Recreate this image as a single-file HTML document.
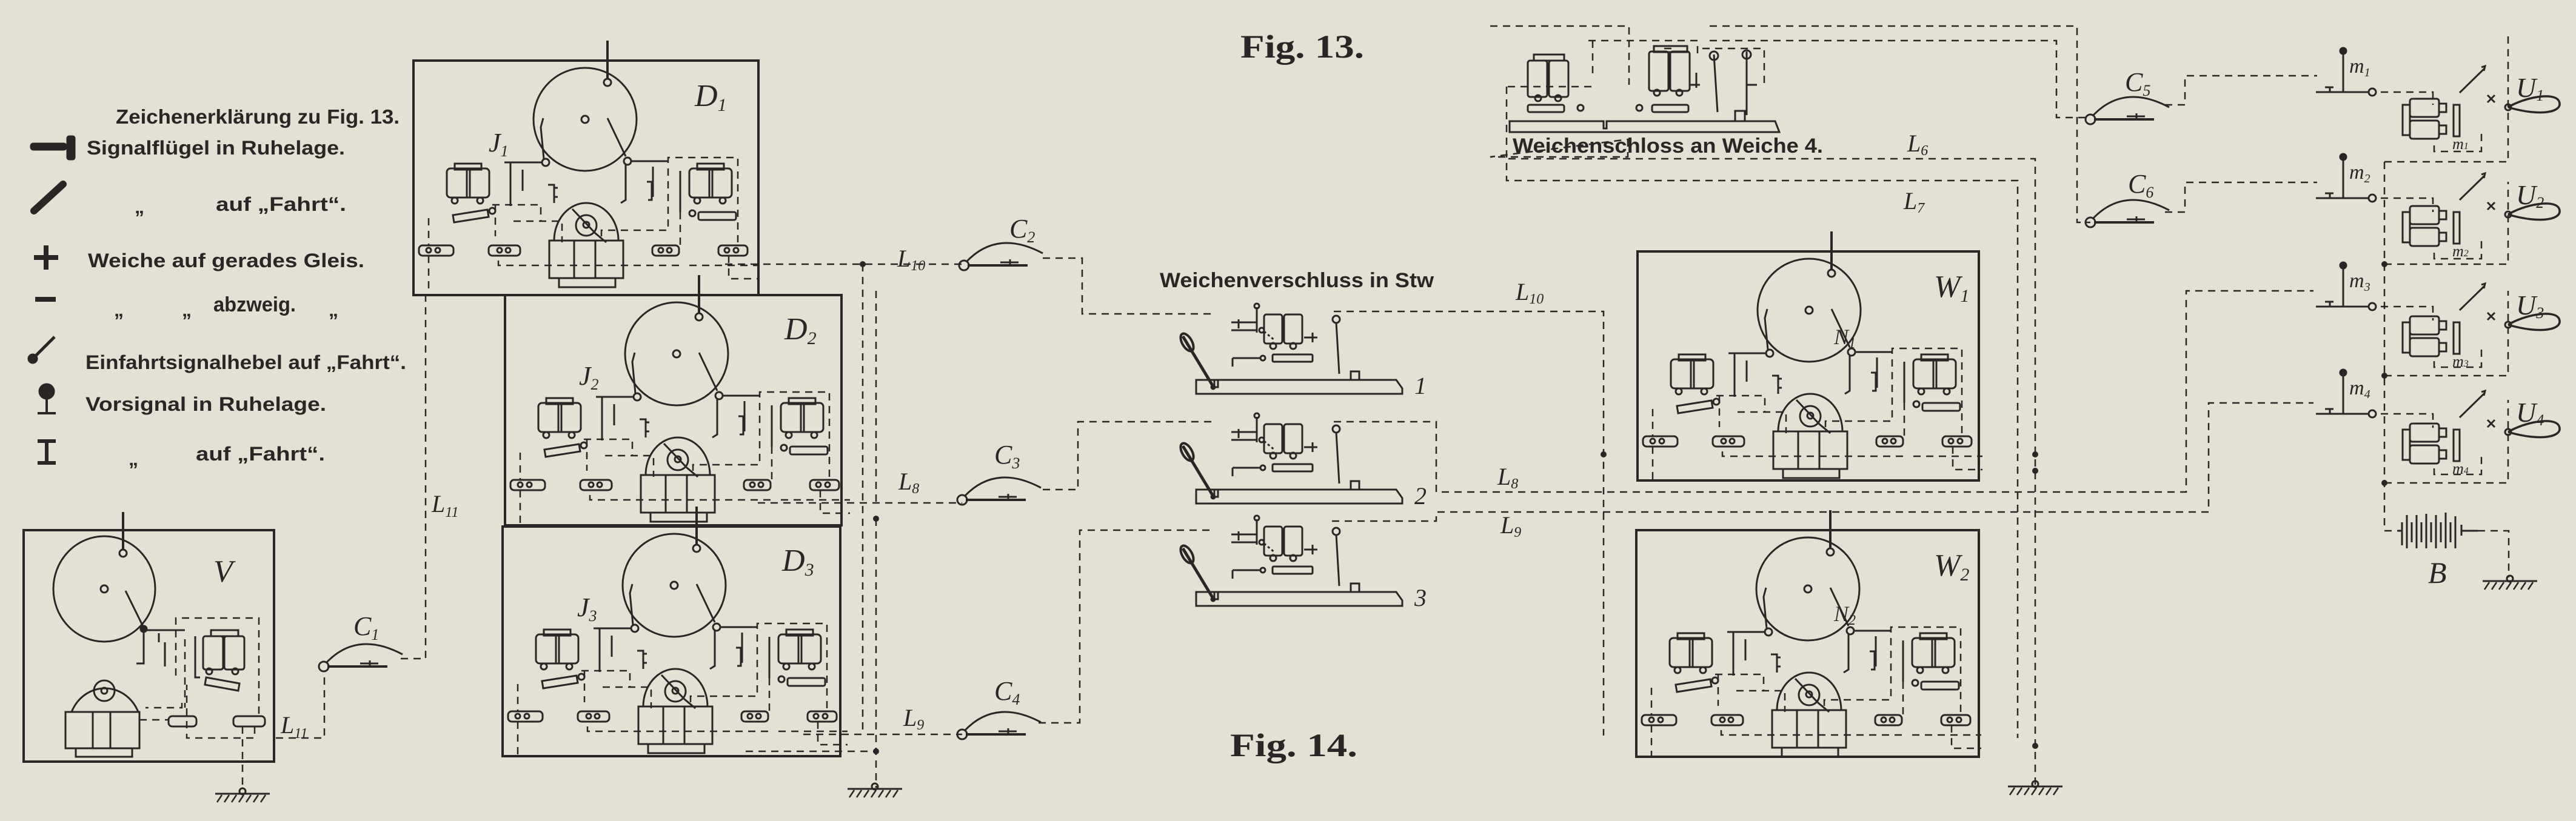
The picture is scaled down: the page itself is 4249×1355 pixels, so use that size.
<!DOCTYPE html>
<html><head><meta charset="utf-8"><style>
html,body{margin:0;padding:0;background:#e4e0d3;}
svg{display:block}
.t{font-family:"Liberation Sans Narrow","Liberation Sans",sans-serif;font-weight:bold;fill:#2a2626}
.s{font-family:"Liberation Serif",serif;font-style:italic;fill:#2a2626}
.f{font-family:"Liberation Serif",serif;font-weight:bold;fill:#2a2626}
</style></head><body>
<svg width="4249" height="1355" viewBox="0 0 4249 1355" xmlns="http://www.w3.org/2000/svg">
<rect width="4249" height="1355" fill="#e4e0d3"/>
<defs>
<g id="blk" fill="none" stroke="#2a2626" stroke-width="3">
 <line x1="320" y1="-33" x2="320" y2="30" stroke-width="4"/>
 <circle cx="320" cy="36" r="6"/>
 <circle cx="283" cy="97" r="85"/>
 <circle cx="283" cy="97" r="6"/>
 <line x1="320" y1="95" x2="350" y2="158"/>
 <path d="M215 162 L210 110 L214 95"/>
 <circle cx="218" cy="168" r="6"/><circle cx="353" cy="166" r="6"/>
 <line x1="150" y1="168" x2="212" y2="168"/><line x1="359" y1="166" x2="420" y2="166"/>
 <path d="M160 168 V240 M180 180 V215 M350 172 V230 l-8 5 M395 175 V225"/>
 <rect x="55" y="178" width="70" height="48" rx="6"/><rect x="68" y="170" width="44" height="10"/>
 <line x1="88" y1="178" x2="88" y2="226"/><line x1="93" y1="178" x2="93" y2="226"/>
 <circle cx="68" cy="231" r="5"/><circle cx="110" cy="231" r="5"/>
 <polygon points="65,255 122,246 124,258 67,267"/><circle cx="130" cy="248" r="5"/>
 <rect x="455" y="178" width="70" height="48" rx="6"/><rect x="468" y="170" width="44" height="10"/>
 <line x1="488" y1="178" x2="488" y2="226"/><line x1="493" y1="178" x2="493" y2="226"/>
 <circle cx="468" cy="231" r="5"/><circle cx="510" cy="231" r="5"/>
 <rect x="470" y="250" width="62" height="13" rx="3"/><circle cx="460" cy="252" r="5"/>
 <path d="M440 182 V250 M222 205 h10 v30 M232 210 h6 M232 225 h6 M385 200 h8 v30 h-6"/>
 <path d="M232 297 A53 62 0 0 1 338 297"/>
 <circle cx="285" cy="272" r="17"/><circle cx="285" cy="271" r="5"/>
 <path d="M262 245 L300 285 L318 300"/>
 <rect x="224" y="297" width="122" height="62"/>
 <line x1="265" y1="297" x2="265" y2="359"/><line x1="300" y1="297" x2="300" y2="359"/>
 <rect x="240" y="359" width="93" height="15"/>
 <rect x="9" y="305" width="57" height="17" rx="6"/><circle cx="25" cy="313" r="4"/><circle cx="40" cy="313" r="4"/>
 <rect x="124" y="305" width="52" height="17" rx="6"/><circle cx="142" cy="313" r="4"/><circle cx="156" cy="313" r="4"/>
 <rect x="394" y="305" width="44" height="17" rx="6"/><circle cx="408" cy="313" r="4"/><circle cx="422" cy="313" r="4"/>
 <rect x="503" y="305" width="48" height="17" rx="6"/><circle cx="517" cy="313" r="4"/><circle cx="532" cy="313" r="4"/>
 <g stroke-dasharray="12 9" stroke-width="2.5">
  <path d="M25 260 V305 M25 322 V385"/>
  <path d="M130 238 H210 V265 M135 238 V290"/>
  <path d="M140 330 V338 H440"/>
  <path d="M165 265 H245 V300"/>
  <path d="M310 290 V280 H420 V160 H535 V305"/>
  <path d="M440 250 V305 M455 338 H569 M520 322 V360 H569"/>
 </g>
</g>
<g id="lev" fill="none" stroke="#2a2626" stroke-width="3">
 <path d="M0 0 H330 L340 14 V23 H0 Z"/>
 <path d="M30 0 V12 h6 V0"/>
 <line x1="-22" y1="-72" x2="30" y2="14" stroke-width="5"/>
 <ellipse cx="-15" cy="-62" rx="8" ry="16" transform="rotate(-30 -15 -62)" stroke-width="4"/>
 <circle cx="28" cy="12" r="3"/>
 <rect x="112" y="-108" width="30" height="48" rx="4"/><rect x="145" y="-108" width="30" height="48" rx="4"/>
 <circle cx="127" cy="-56" r="5"/><circle cx="160" cy="-56" r="5"/>
 <line x1="100" y1="-120" x2="100" y2="-78"/><circle cx="100" cy="-122" r="4"/>
 <line x1="58" y1="-95" x2="100" y2="-95"/><line x1="70" y1="-100" x2="70" y2="-85"/>
 <line x1="58" y1="-82" x2="100" y2="-82"/><circle cx="108" cy="-82" r="4"/>
 <path d="M112 -80 L130 -65" stroke-dasharray="4 4"/>
 <rect x="126" y="-42" width="66" height="12" rx="2"/><circle cx="110" cy="-36" r="4"/>
 <line x1="60" y1="-36" x2="106" y2="-36"/><line x1="60" y1="-36" x2="60" y2="-22"/>
 <path d="M178 -70 H200 M192 -78 V-62"/>
 <line x1="231" y1="-95" x2="236" y2="-10"/><circle cx="231" cy="-100" r="6"/>
 <rect x="255" y="-14" width="14" height="14"/>
</g>
<g id="cc" fill="none" stroke="#2a2626" stroke-width="3">
 <circle cx="0" cy="0" r="8"/>
 <line x1="6" y1="0" x2="105" y2="0" stroke-width="4"/>
 <path d="M4 -6 Q55 -60 130 -20"/>
 <path d="M60 -5 H90 M76 -10 V2"/>
</g>
<g id="gnd" fill="none" stroke="#2a2626" stroke-width="3">
 <line x1="-45" y1="0" x2="45" y2="0"/><circle cx="0" cy="-4" r="5"/>
 <path d="M-42 14 L-34 2 M-30 14 L-22 2 M-18 14 L-10 2 M-6 14 L2 2 M6 14 L14 2 M18 14 L26 2 M30 14 L38 2" stroke-width="2.5"/>
</g>
<g id="uu" fill="none" stroke="#2a2626" stroke-width="3">
 <rect x="0" y="10" width="12" height="50"/>
 <rect x="12" y="0" width="48" height="30" rx="4"/><rect x="12" y="36" width="48" height="30" rx="4"/>
 <path d="M60 8 h12 v14 h-12 M60 44 h12 v14 h-12"/>
 <rect x="84" y="10" width="10" height="52"/>
 <path d="M94 -10 L135 -50 M130 -52 l6 -2 l-2 8"/>
 <path d="M140 -6 l12 12 M152 -6 l-12 12"/>
 <circle cx="174" cy="14" r="5"/>
 <path d="M174 14 C200 -2 250 -12 258 4 C266 22 228 30 174 14" stroke-width="3.5"/>
</g>
<g id="mm" fill="none" stroke="#2a2626" stroke-width="3">
 <line x1="-45" y1="0" x2="42" y2="0"/><circle cx="48" cy="0" r="6"/>
 <line x1="0" y1="0" x2="0" y2="-66"/><circle cx="0" cy="-68" r="5" fill="#2a2626"/>
 <path d="M-30 -8 h14 M-22 -8 v8"/>
</g>
</defs>

<!-- Legend -->
<text class="t" x="191" y="204" font-size="33" textLength="468" lengthAdjust="spacingAndGlyphs">Zeichenerklärung zu Fig. 13.</text>
<g fill="#2a2626" stroke="#2a2626">
 <rect x="50" y="236" width="60" height="12" rx="5"/><rect x="110" y="224" width="14" height="40" rx="4"/>
 <line x1="56" y1="348" x2="104" y2="304" stroke-width="12" stroke-linecap="round"/>
 <path d="M56 425 H96 M76 405 V445" stroke-width="8" fill="none"/>
 <line x1="58" y1="494" x2="92" y2="494" stroke-width="8"/>
 <line x1="56" y1="590" x2="90" y2="556" stroke-width="5"/><circle cx="54" cy="592" r="8"/>
 <circle cx="77" cy="646" r="13"/><line x1="77" y1="659" x2="77" y2="680" stroke-width="4"/><line x1="62" y1="682" x2="92" y2="682" stroke-width="4"/>
 <path d="M62 728 H92 M77 728 V764 M62 764 H92" stroke-width="6" fill="none"/>
</g>
<text class="t" x="143" y="255" font-size="32" textLength="426" lengthAdjust="spacingAndGlyphs">Signalflügel in Ruhelage.</text>
<text class="t" x="222" y="352" font-size="32">„</text>
<text class="t" x="356" y="348" font-size="32" textLength="215" lengthAdjust="spacingAndGlyphs">auf „Fahrt“.</text>
<text class="t" x="145" y="441" font-size="32" textLength="456" lengthAdjust="spacingAndGlyphs">Weiche auf gerades Gleis.</text>
<text class="t" x="188" y="522" font-size="32">„</text><text class="t" x="300" y="522" font-size="32">„</text>
<text class="t" x="352" y="514" font-size="34" textLength="136" lengthAdjust="spacingAndGlyphs">abzweig.</text>
<text class="t" x="542" y="522" font-size="32">„</text>
<text class="t" x="141" y="609" font-size="32" textLength="529" lengthAdjust="spacingAndGlyphs">Einfahrtsignalhebel auf „Fahrt“.</text>
<text class="t" x="141" y="678" font-size="32" textLength="397" lengthAdjust="spacingAndGlyphs">Vorsignal in Ruhelage.</text>
<text class="t" x="212" y="768" font-size="32">„</text>
<text class="t" x="323" y="760" font-size="32" textLength="213" lengthAdjust="spacingAndGlyphs">auf „Fahrt“.</text>

<!-- Boxes -->
<g fill="none" stroke="#2a2626" stroke-width="4">
 <rect x="682" y="100" width="569" height="387"/>
 <rect x="833" y="487" width="555" height="380"/>
 <rect x="829" y="869" width="557" height="379"/>
 <rect x="2701" y="415" width="563" height="378"/>
 <rect x="2699" y="875" width="565" height="374"/>
 <rect x="39" y="875" width="413" height="382"/>
</g>
<use href="#blk" x="682" y="100"/>
<use href="#blk" x="833" y="487"/>
<use href="#blk" x="829" y="869"/>
<use href="#blk" x="2701" y="415"/>
<use href="#blk" x="2699" y="875"/>
<text class="s" x="1146" y="175" font-size="52">D<tspan font-size="30" dy="8">1</tspan></text>
<text class="s" x="806" y="250" font-size="44">J<tspan font-size="26" dy="8">1</tspan></text>
<text class="s" x="1294" y="560" font-size="52">D<tspan font-size="30" dy="8">2</tspan></text>
<text class="s" x="955" y="635" font-size="44">J<tspan font-size="26" dy="8">2</tspan></text>
<text class="s" x="1290" y="942" font-size="52">D<tspan font-size="30" dy="8">3</tspan></text>
<text class="s" x="952" y="1017" font-size="44">J<tspan font-size="26" dy="8">3</tspan></text>
<text class="s" x="3190" y="490" font-size="52">W<tspan font-size="30" dy="8">1</tspan></text>
<text class="s" x="3025" y="568" font-size="36">N<tspan font-size="24" dy="6">1</tspan></text>
<text class="s" x="3190" y="950" font-size="52">W<tspan font-size="30" dy="8">2</tspan></text>
<text class="s" x="3025" y="1025" font-size="36">N<tspan font-size="24" dy="6">2</tspan></text>

<!-- V block -->
<g fill="none" stroke="#2a2626" stroke-width="3">
 <line x1="203" y1="845" x2="203" y2="907" stroke-width="4"/><circle cx="203" cy="913" r="6"/>
 <ellipse cx="172" cy="972" rx="84" ry="87"/><circle cx="172" cy="972" r="6"/>
 <line x1="207" y1="975" x2="237" y2="1036"/><circle cx="237" cy="1038" r="5" fill="#2a2626"/>
 <path d="M237 1040 V1095 h-12 M237 1040 H305 M262 1045 v15 M272 1060 v40"/>
 <rect x="335" y="1050" width="33" height="55" rx="4"/><rect x="370" y="1050" width="33" height="55" rx="4"/>
 <rect x="348" y="1040" width="45" height="10"/><circle cx="345" cy="1108" r="5"/><circle cx="388" cy="1108" r="5"/>
 <polygon points="340,1118 395,1128 393,1140 338,1130"/><path d="M322 1050 V1118 h8"/>
 <path d="M118 1175 A60 65 0 0 1 228 1175"/><circle cx="172" cy="1140" r="17"/><circle cx="172" cy="1140" r="5"/>
 <rect x="108" y="1175" width="122" height="60"/><line x1="153" y1="1175" x2="153" y2="1235"/><line x1="182" y1="1175" x2="182" y2="1235"/>
 <rect x="125" y="1235" width="93" height="14"/>
 <rect x="278" y="1182" width="46" height="17" rx="6"/><rect x="385" y="1182" width="52" height="17" rx="6"/>
 <g stroke-dasharray="12 9" stroke-width="2.5">
  <path d="M290 1115 V1020 H427 V1185"/><path d="M300 1160 V1168 H240"/><path d="M230 1188 H278"/>
  <path d="M305 1055 V1168"/><path d="M420 1199 V1218 H308 V1130"/><path d="M400 1199 V1300"/>
  <path d="M455 1218 H535 V1107"/><path d="M661 1087 H702 V487"/>
 </g>
</g>
<text class="s" x="352" y="960" font-size="52">V</text>
<use href="#gnd" x="400" y="1310"/>
<use href="#cc" x="534" y="1100"/>
<text class="s" x="583" y="1048" font-size="44">C<tspan font-size="26" dy="8">1</tspan></text>
<text class="s" x="463" y="1210" font-size="40">L<tspan font-size="24" dy="8">11</tspan></text>
<text class="s" x="712" y="845" font-size="40">L<tspan font-size="24" dy="8">11</tspan></text>

<!-- D wiring -->
<g fill="none" stroke="#2a2626" stroke-width="2.5" stroke-dasharray="12 9">
 <path d="M1196 436 H1590"/><path d="M1423 436 V856"/><path d="M1445 480 V830"/>
 <path d="M1250 830 H1587"/><path d="M1445 856 V1300"/><path d="M1423 856 V1212"/>
 <path d="M1325 1212 H1587"/><path d="M1230 1240 H1445"/>
 <path d="M1720 426 H1785 V518 H2004"/>
 <path d="M1720 808 H1778 V696 H2004"/>
 <path d="M1713 1193 H1781 V875 H2004"/>
 <path d="M2200 514 H2645 V1214"/><path d="M2200 696 H2369 V812 H3606 V480 H3816"/>
 <path d="M2197 860 H2369 V845 H3643 V665 H3816"/>
</g>
<g fill="#2a2626"><circle cx="1423" cy="436" r="5"/><circle cx="1445" cy="856" r="5"/><circle cx="1445" cy="1240" r="5"/><circle cx="2645" cy="750" r="5"/><circle cx="3357" cy="750" r="5"/><circle cx="3357" cy="777" r="5"/><circle cx="3357" cy="1231" r="5"/></g>
<use href="#gnd" x="1443" y="1302"/>
<use href="#cc" x="1590" y="438"/><use href="#cc" x="1587" y="825"/><use href="#cc" x="1587" y="1212"/>
<text class="s" x="1665" y="392" font-size="44">C<tspan font-size="26" dy="8">2</tspan></text>
<text class="s" x="1640" y="765" font-size="44">C<tspan font-size="26" dy="8">3</tspan></text>
<text class="s" x="1640" y="1155" font-size="44">C<tspan font-size="26" dy="8">4</tspan></text>
<text class="s" x="1480" y="440" font-size="40">L<tspan font-size="24" dy="6">10</tspan></text>
<text class="s" x="1482" y="808" font-size="40">L<tspan font-size="24" dy="6">8</tspan></text>
<text class="s" x="1490" y="1198" font-size="40">L<tspan font-size="24" dy="6">9</tspan></text>

<!-- Fig 14 -->
<text class="f" x="2046" y="95" font-size="54" textLength="204" lengthAdjust="spacingAndGlyphs">Fig. 13.</text>
<text class="t" x="1913" y="474" font-size="34" textLength="452" lengthAdjust="spacingAndGlyphs">Weichenverschluss in Stw</text>
<text class="f" x="2029" y="1248" font-size="54" textLength="210" lengthAdjust="spacingAndGlyphs">Fig. 14.</text>
<use href="#lev" x="1973" y="627"/><use href="#lev" x="1973" y="808"/><use href="#lev" x="1973" y="977"/>
<text class="s" x="2333" y="650" font-size="40">1</text>
<text class="s" x="2333" y="832" font-size="40">2</text>
<text class="s" x="2333" y="1000" font-size="40">3</text>
<text class="s" x="2500" y="495" font-size="40">L<tspan font-size="24" dy="6">10</tspan></text>
<text class="s" x="2470" y="800" font-size="40">L<tspan font-size="24" dy="6">8</tspan></text>
<text class="s" x="2475" y="880" font-size="40">L<tspan font-size="24" dy="6">9</tspan></text>

<!-- Weichenschloss -->
<g fill="none" stroke="#2a2626" stroke-width="3">
 <rect x="2520" y="100" width="32" height="60" rx="4"/><rect x="2555" y="100" width="32" height="60" rx="4"/>
 <rect x="2530" y="90" width="50" height="10"/><circle cx="2537" cy="162" r="5"/><circle cx="2570" cy="162" r="5"/>
 <rect x="2720" y="85" width="32" height="65" rx="4"/><rect x="2755" y="85" width="32" height="65" rx="4"/>
 <rect x="2728" y="76" width="55" height="10"/><circle cx="2733" cy="153" r="5"/><circle cx="2770" cy="153" r="5"/>
 <rect x="2520" y="173" width="60" height="12" rx="3"/><circle cx="2607" cy="178" r="5"/>
 <rect x="2725" y="173" width="60" height="12" rx="3"/><circle cx="2704" cy="178" r="5"/>
 <path d="M2490 200 H2645 V212 h5 V200 H2928 L2935 218 H2490 Z"/>
 <line x1="2827" y1="90" x2="2833" y2="185"/><circle cx="2827" cy="92" r="7"/>
 <line x1="2881" y1="85" x2="2881" y2="190"/><circle cx="2881" cy="90" r="7"/><rect x="2862" y="183" width="16" height="17"/>
 <path d="M2798 120 V145 M2788 140 h16 M2880 140 h18"/>
 <g stroke-dasharray="12 9" stroke-width="2.5">
  <path d="M2458 43 H2687 V140 M2685 230 V259 H2458 Z"/>
  <path d="M2485 143 V298 H3328 V1218 M2487 143 H2628"/>
  <path d="M2620 67 H2800 V90 M2745 80 H2760 M2820 43 H3426 V367 H3448"/>
  <path d="M2627 67 V130 M2820 67 H3392 V194 H3448"/>
  <path d="M2488 262 H3357 V1296"/>
  <path d="M2808 80 H2910 V140"/>
 </g>
</g>
<text class="t" x="2495" y="252" font-size="34" textLength="512" lengthAdjust="spacingAndGlyphs">Weichenschloss an Weiche 4.</text>
<text class="s" x="3146" y="250" font-size="40">L<tspan font-size="24" dy="6">6</tspan></text>
<text class="s" x="3140" y="345" font-size="40">L<tspan font-size="24" dy="6">7</tspan></text>
<use href="#gnd" x="3357" y="1298"/>

<!-- Right: C5 C6, keys, bells -->
<use href="#cc" x="3448" y="197"/><use href="#cc" x="3448" y="367"/>
<text class="s" x="3505" y="150" font-size="44">C<tspan font-size="26" dy="8">5</tspan></text>
<text class="s" x="3510" y="318" font-size="44">C<tspan font-size="26" dy="8">6</tspan></text>
<g fill="none" stroke="#2a2626" stroke-width="2.5" stroke-dasharray="12 9">
 <path d="M3571 173 H3604 V125 H3822"/><path d="M3571 350 H3604 V301 H3822"/>
 <path d="M3927 152 H4013 V173 M4015 240 V250 H4093 V212 M3933 267 H4137 V55"/>
 <path d="M3927 327 H4013 V350 M4015 417 V427 H4093 V389 M3933 267 V876 H3955"/>
 <path d="M3927 506 H4013 V529 M4015 596 V606 H4093 V568 M3933 436 H4137 V300"/>
 <path d="M3927 683 H4013 V706 M4015 773 V783 H4093 V745 M3933 620 H4137 V480 M3933 797 H4137 V660"/>
 <path d="M4087 876 H4138 V953"/>
</g>
<g fill="#2a2626"><circle cx="3933" cy="436" r="5"/><circle cx="3933" cy="620" r="5"/><circle cx="3933" cy="797" r="5"/></g>
<use href="#mm" x="3865" y="152"/><use href="#mm" x="3865" y="327"/><use href="#mm" x="3865" y="506"/><use href="#mm" x="3865" y="683"/>
<use href="#uu" x="3963" y="163"/><use href="#uu" x="3963" y="340"/><use href="#uu" x="3963" y="522"/><use href="#uu" x="3963" y="699"/>
<text class="s" x="3875" y="120" font-size="34">m<tspan font-size="20" dy="6">1</tspan></text>
<text class="s" x="3875" y="295" font-size="34">m<tspan font-size="20" dy="6">2</tspan></text>
<text class="s" x="3875" y="474" font-size="34">m<tspan font-size="20" dy="6">3</tspan></text>
<text class="s" x="3875" y="651" font-size="34">m<tspan font-size="20" dy="6">4</tspan></text>
<text class="s" x="4150" y="160" font-size="46">U<tspan font-size="26" dy="6">1</tspan></text>
<text class="s" x="4150" y="337" font-size="46">U<tspan font-size="26" dy="6">2</tspan></text>
<text class="s" x="4150" y="519" font-size="46">U<tspan font-size="26" dy="6">3</tspan></text>
<text class="s" x="4150" y="696" font-size="46">U<tspan font-size="26" dy="6">4</tspan></text>
<text class="s" x="4045" y="246" font-size="26">m<tspan font-size="16">1</tspan></text>
<text class="s" x="4045" y="423" font-size="26">m<tspan font-size="16">2</tspan></text>
<text class="s" x="4045" y="605" font-size="26">m<tspan font-size="16">3</tspan></text>
<text class="s" x="4045" y="782" font-size="26">m<tspan font-size="16">4</tspan></text>
<g fill="none" stroke="#2a2626" stroke-width="3">
 <path d="M3955 876 H3962"/>
 <path d="M3962 862 V900 M3970 850 V905 M3978 862 V895 M3986 850 V905 M3994 862 V895 M4002 848 V905 M4010 862 V895 M4018 850 V905 M4026 862 V895 M4034 846 V905 M4042 862 V895 M4050 852 V905 M4060 866 V884"/>
 <path d="M4060 876 H4087"/>
</g>
<text class="s" x="4005" y="962" font-size="50">B</text>
<use href="#gnd" x="4140" y="959"/>
</svg>
</body></html>
